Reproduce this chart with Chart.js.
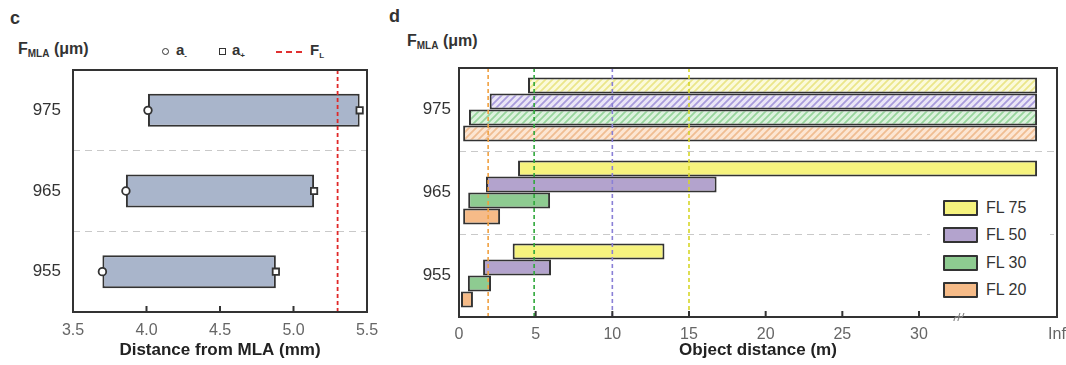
<!DOCTYPE html>
<html><head><meta charset="utf-8">
<script src="https://cdn.jsdelivr.net/npm/chart.js@4.4.1/dist/chart.umd.min.js"></script>
<style>
body{margin:0;width:1066px;height:365px;background:#fff;font-family:"Liberation Sans",Arial,sans-serif;color:#333;position:relative;overflow:hidden}
.abs{position:absolute;line-height:1;white-space:nowrap}
.hdr{font-weight:bold;font-size:16px;color:#333}
.hdr sub{font-size:10px;vertical-align:-3px}
.lg{font-weight:bold;font-size:15px;color:#333}
.lg sub{font-size:8px;vertical-align:-3px}
.lgd{font-size:16px;color:#333}
.box{position:absolute;width:31px;height:12px;border:2px solid #333;border-radius:1px}
#legD{position:absolute;left:0;top:0;z-index:5}
</style></head><body>
<div class="abs hdr" style="left:10px;top:9px;font-size:18px">c</div>
<div class="abs hdr" style="left:389px;top:7px;font-size:18px">d</div>
<div class="abs hdr" style="left:18px;top:41px">F<sub>MLA</sub> (μm)</div>
<div class="abs hdr" style="left:407px;top:33px">F<sub>MLA</sub> (μm)</div>

<!-- panel c legend -->
<div class="abs" style="left:162px;top:48px;width:5px;height:5px;border:1.5px solid #333;border-radius:50%"></div>
<div class="abs lg" style="left:176px;top:42px">a<sub>-</sub></div>
<div class="abs" style="left:219px;top:48px;width:5px;height:5px;border:1.5px solid #333"></div>
<div class="abs lg" style="left:232px;top:42px">a<sub>+</sub></div>
<div class="abs" style="left:276px;top:51px;width:26px;height:0;border-top:2px dashed #e03030"></div>
<div class="abs lg" style="left:310px;top:42px">F<sub>L</sub></div>

<div class="abs" style="left:0;top:0"><canvas id="cC" width="380" height="365"></canvas></div>
<div class="abs" style="left:380px;top:0"><canvas id="cD" width="686" height="365"></canvas></div>

<!-- panel d legend -->
<div id="legD"><div class="abs" style="left:930px;top:196px;width:120px;height:108px;background:#fff"></div></div>

<script>
// ---------- Panel c data ----------
const categories = ['975', '965', '955'];
const aMinus = [4.01, 3.86, 3.70];
const aPlus  = [5.45, 5.14, 4.88];
const focalLengthFL = 5.3;
const xTicksC = [3.5, 4, 4.5, 5, 5.5];

// ---------- Panel d data ----------
const seriesNames = ['FL 75', 'FL 50', 'FL 30', 'FL 20'];
const infPos = 39;          // position of the "Inf" tick
const infBar = 37.7;        // where the "to infinity" bars end
const fl75Near = [4.5, 3.85, 3.5],   fl75Far = [infBar, infBar, 13.4];
const fl50Near = [2.0, 1.76, 1.57],  fl50Far = [infBar, 16.8, 6.0];
const fl30Near = [0.65, 0.6, 0.58],  fl30Far = [infBar, 5.94, 2.09];
const fl20Near = [0.27, 0.27, 0.13], fl20Far = [infBar, 2.68, 0.91];
const hyperfocal = [15, 10, 4.9, 1.9];
const xTicksD = [0, 5, 10, 15, 20, 25, 30, infPos];
const breakPos = 32.6;

const solidColors = ['#f6f37e', '#b3a3cd', '#8ecb91', '#f6bb88'];
const lightColors = ['#fbfadb', '#ebe6f6', '#ddf2de', '#fce6d3'];
const stripeColors = ['#ebe68a', '#a99cdc', '#97d49c', '#f0bd92'];
const lineColors = ['#d6d628', '#8a80d6', '#2fa83a', '#f0a040'];

function hatch(bg, fg) {
  const c = document.createElement('canvas'); c.width = 7; c.height = 7;
  const x = c.getContext('2d');
  x.fillStyle = bg; x.fillRect(0, 0, 7, 7);
  x.strokeStyle = fg; x.lineWidth = 1.8;
  x.beginPath();
  x.moveTo(-1, 8); x.lineTo(8, -1);
  x.moveTo(-3, 3); x.lineTo(3, -3);
  x.moveTo(4, 10); x.lineTo(10, 4);
  x.stroke();
  return x.createPattern(c, 'repeat');
}

Chart.defaults.font.family = '"Liberation Sans", Arial, sans-serif';
Chart.defaults.animation = false;

function frame(ctx, a) {
  ctx.save();
  ctx.strokeStyle = '#333'; ctx.lineWidth = 2;
  ctx.strokeRect(a.left, a.top, a.right - a.left, a.bottom - a.top);
  ctx.restore();
}
function inwardTicks(ctx, sx, a, vals) {
  ctx.save(); ctx.strokeStyle = '#333'; ctx.lineWidth = 2;
  vals.forEach(v => {
    const p = sx.getPixelForValue(v);
    ctx.beginPath(); ctx.moveTo(p, a.bottom); ctx.lineTo(p, a.bottom - 6); ctx.stroke();
  });
  ctx.restore();
}

// ---------- Panel c ----------
new Chart(document.getElementById('cC'), {
  type: 'bar',
  data: {
    labels: categories,
    datasets: [
      { type: 'line', label: 'a-', indexAxis: 'y', showLine: false,
        data: categories.map((c, i) => ({ x: aMinus[i], y: c })),
        pointStyle: 'circle', pointRadius: 3.8, pointBackgroundColor: '#fff',
        pointBorderColor: '#333', pointBorderWidth: 1.8, order: 0 },
      { type: 'line', label: 'a+', indexAxis: 'y', showLine: false,
        data: categories.map((c, i) => ({ x: aPlus[i], y: c })),
        pointStyle: 'rect', pointRadius: 4.5, pointBackgroundColor: '#fff',
        pointBorderColor: '#333', pointBorderWidth: 1.8, order: 0 },
      { label: 'range', data: categories.map((c, i) => [aMinus[i], aPlus[i]]),
        backgroundColor: '#a9b5cb', borderColor: '#333', borderWidth: 2,
        borderSkipped: false, barPercentage: 0.41, categoryPercentage: 1, order: 1 }
    ]
  },
  options: {
    responsive: false, indexAxis: 'y',
    layout: { padding: { top: 70, right: 13, left: 0, bottom: 0 } },
    plugins: { legend: { display: false }, tooltip: { enabled: false } },
    scales: {
      x: { type: 'linear', min: 3.5, max: 5.5,
        afterBuildTicks: s => { s.ticks = xTicksC.map(v => ({ value: v })); },
        afterFit: s => { s.height = 53; s.paddingLeft = 0; s.paddingRight = 0; },
        grid: { display: false, drawTicks: false }, border: { display: false },
        ticks: { font: { size: 16 }, color: '#666', padding: 9 },
        title: { display: true, text: 'Distance from MLA (mm)', font: { size: 17, weight: 'bold' }, color: '#222', padding: { top: 0, bottom: 4 } } },
      y: { type: 'category', offset: true,
        afterFit: s => { s.width = 73; },
        grid: { offset: true, color: '#c9c9c9', lineWidth: 1, drawTicks: false },
        border: { display: false, dash: [7, 5] },
        ticks: { font: { size: 17 }, color: '#333', padding: 12 } }
    }
  },
  plugins: [{
    id: 'decoC',
    afterDatasetsDraw(chart) {
      const { ctx, chartArea: a, scales } = chart;
      const p = scales.x.getPixelForValue(focalLengthFL);
      ctx.save(); ctx.strokeStyle = '#e02828'; ctx.lineWidth = 1.8; ctx.setLineDash([4, 3]);
      ctx.beginPath(); ctx.moveTo(p, a.top); ctx.lineTo(p, a.bottom); ctx.stroke(); ctx.restore();
    },
    afterDraw(chart) {
      const { ctx, chartArea: a, scales } = chart;
      frame(ctx, a);
      inwardTicks(ctx, scales.x, a, xTicksC.slice(1, -1));
    }
  }]
});

// ---------- Panel d ----------
const nears = [fl75Near, fl50Near, fl30Near, fl20Near];
const fars = [fl75Far, fl50Far, fl30Far, fl20Far];
const dsD = seriesNames.map((n, k) => ({
  label: n,
  data: categories.map((c, i) => [nears[k][i], fars[k][i]]),
  backgroundColor: categories.map((c, i) => i === 0 ? hatch(lightColors[k], stripeColors[k]) : solidColors[k]),
  borderColor: '#333', borderWidth: 2, borderSkipped: false,
  barPercentage: 1, categoryPercentage: 0.77
}));

new Chart(document.getElementById('cD'), {
  type: 'bar',
  data: { labels: categories, datasets: dsD },
  options: {
    responsive: false, indexAxis: 'y',
    layout: { padding: { top: 68, right: 9, left: 0, bottom: 0 } },
    plugins: { legend: { display: false }, tooltip: { enabled: false } },
    scales: {
      x: { type: 'linear', min: 0, max: infPos,
        afterBuildTicks: s => { s.ticks = xTicksD.map(v => ({ value: v })); },
        afterFit: s => { s.height = 48; s.paddingLeft = 0; s.paddingRight = 0; },
        grid: { display: false, drawTicks: false }, border: { display: false },
        ticks: { font: { size: 16 }, color: '#666', padding: 8,
          callback: v => v === infPos ? 'Inf' : String(v) },
        title: { display: true, text: 'Object distance (m)', font: { size: 17, weight: 'bold' }, color: '#222', padding: { top: 0, bottom: 4 } } },
      y: { type: 'category', offset: true,
        afterFit: s => { s.width = 79; },
        grid: { offset: true, color: '#c9c9c9', lineWidth: 1, drawTicks: false },
        border: { display: false, dash: [7, 5] },
        ticks: { font: { size: 17 }, color: '#333', padding: 8 } }
    }
  },
  plugins: [{
    id: 'decoD',
    afterDatasetsDraw(chart) {
      const { ctx, chartArea: a, scales } = chart;
      hyperfocal.forEach((v, k) => {
        const p = scales.x.getPixelForValue(v);
        ctx.save(); ctx.strokeStyle = lineColors[k]; ctx.lineWidth = 1.6; ctx.setLineDash([4, 3]);
        ctx.beginPath(); ctx.moveTo(p, a.top); ctx.lineTo(p, a.bottom); ctx.stroke(); ctx.restore();
      });
    },
    afterDraw(chart) {
      const { ctx, chartArea: a, scales } = chart;
      frame(ctx, a);
      inwardTicks(ctx, scales.x, a, xTicksD.slice(1, -1));
      const bx = scales.x.getPixelForValue(breakPos);
      ctx.save(); ctx.strokeStyle = '#888'; ctx.lineWidth = 1.2;
      [-2, 2].forEach(o => {
        ctx.beginPath();
        ctx.moveTo(bx + o - 3, a.bottom + 4);
        ctx.quadraticCurveTo(bx + o - 2, a.bottom - 1, bx + o, a.bottom);
        ctx.quadraticCurveTo(bx + o + 2, a.bottom + 1, bx + o + 3, a.bottom - 4);
        ctx.stroke();
      });
      ctx.restore();
    }
  }]
});

// legend for panel d (HTML, in the plot's lower right)
const legD = document.getElementById('legD');
const legTop = [200, 227, 255, 282];
seriesNames.forEach((n, k) => {
  const b = document.createElement('div');
  b.className = 'box'; b.style.left = '943px'; b.style.top = legTop[k] + 'px';
  b.style.background = solidColors[k];
  legD.appendChild(b);
  const t = document.createElement('div');
  t.className = 'abs lgd'; t.style.left = '986px'; t.style.top = (legTop[k]) + 'px';
  t.textContent = n;
  legD.appendChild(t);
});
</script>
</body></html>
